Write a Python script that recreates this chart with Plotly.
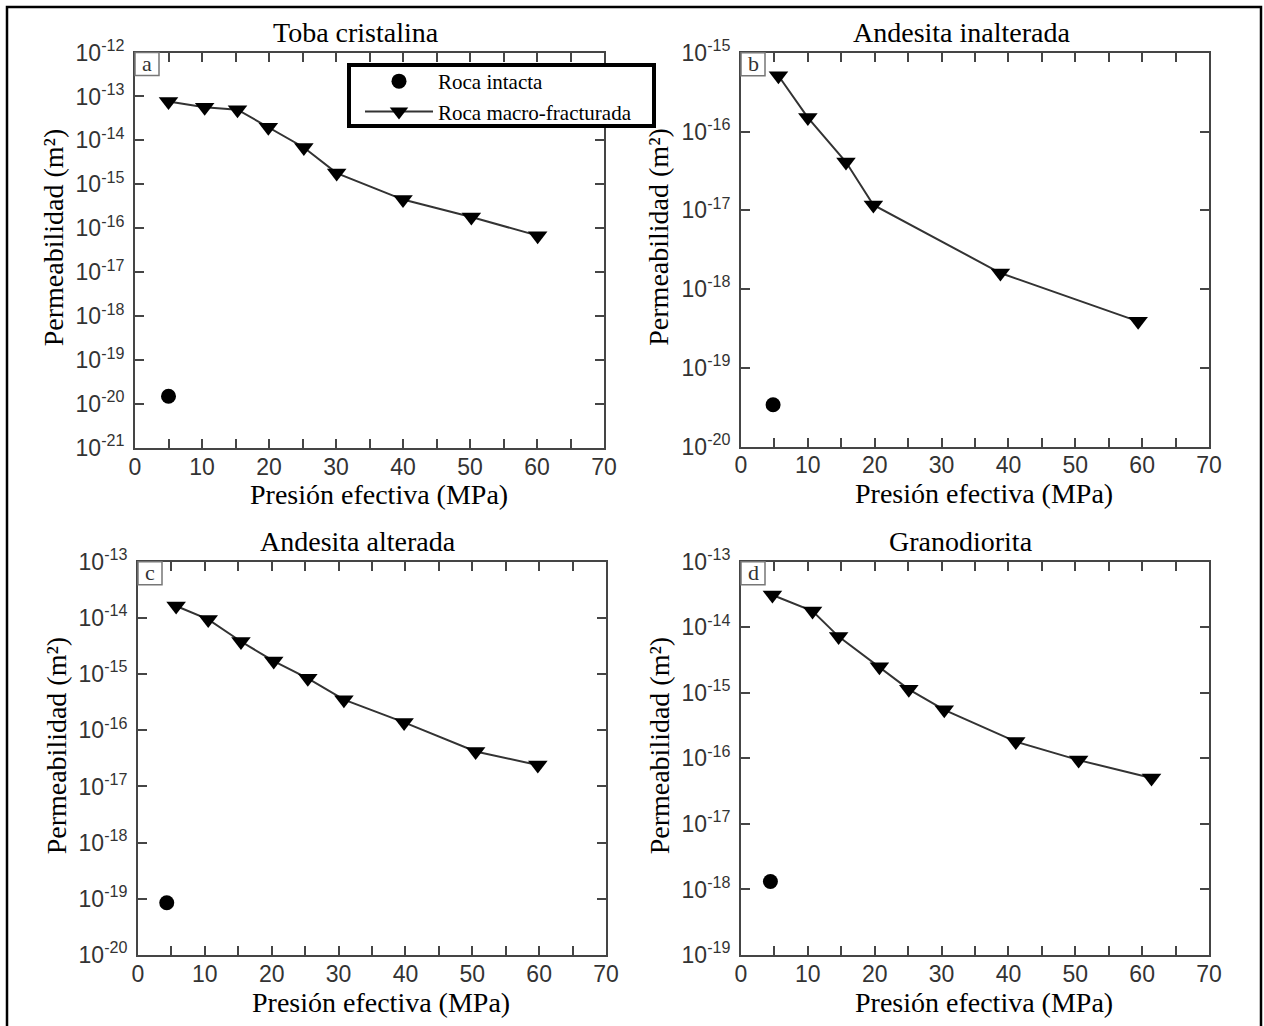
import plotly.graph_objects as go

# Effective pressure (MPa) and permeability (m^2) for each rock type
pressure_toba = [5.0, 10.4, 15.3, 19.9, 25.2, 30.1, 40.0, 50.2, 60.1]
perm_toba = [7.7e-14, 5.7e-14, 5.0e-14, 2.0e-14, 6.9e-15, 1.8e-15, 4.5e-16, 1.8e-16, 6.8e-17]
intact_p_toba = [5.0]
intact_k_toba = [1.5e-20]

pressure_andesita_inalt = [5.6, 10.0, 15.7, 19.8, 38.8, 59.4]
perm_andesita_inalt = [5.1e-16, 1.5e-16, 4.1e-17, 1.17e-17, 1.6e-18, 3.9e-19]
intact_p_andesita_inalt = [4.8]
intact_k_andesita_inalt = [3.4e-20]

pressure_andesita_alt = [5.7, 10.5, 15.4, 20.3, 25.4, 30.8, 39.8, 50.5, 59.8]
perm_andesita_alt = [1.63e-14, 9.4e-15, 3.8e-15, 1.7e-15, 8.4e-16, 3.5e-16, 1.38e-16, 4.2e-17, 2.4e-17]
intact_p_andesita_alt = [4.3]
intact_k_andesita_alt = [8.5e-20]

pressure_grano = [4.7, 10.7, 14.6, 20.7, 25.1, 30.4, 41.1, 50.5, 61.4]
perm_grano = [3.1e-14, 1.77e-14, 7.2e-15, 2.5e-15, 1.13e-15, 5.5e-16, 1.8e-16, 9.4e-17, 5.0e-17]
intact_p_grano = [4.4]
intact_k_grano = [1.32e-18]

titles = ["Toba cristalina", "Andesita inalterada", "Andesita alterada", "Granodiorita"]
panel_letters = ["a", "b", "c", "d"]
y_decades = [(-21, -12), (-20, -15), (-20, -13), (-19, -13)]

W, H = 1264, 1026

def px(x):
    return x / W

def py(y):
    return 1 - y / H

# plot boxes in pixels: left, right, top, bottom
boxes = [
    (135, 604, 52.5, 448),
    (741, 1209, 52.7, 446.7),
    (138, 606, 561.7, 955),
    (741, 1209, 561.7, 955),
]

series = [
    (pressure_toba, perm_toba, intact_p_toba, intact_k_toba),
    (pressure_andesita_inalt, perm_andesita_inalt, intact_p_andesita_inalt, intact_k_andesita_inalt),
    (pressure_andesita_alt, perm_andesita_alt, intact_p_andesita_alt, intact_k_andesita_alt),
    (pressure_grano, perm_grano, intact_p_grano, intact_k_grano),
]

SERIF = "Liberation Serif, Times New Roman, serif"
TICKFONT = dict(family="Liberation Sans, Arial, sans-serif", size=23, color="#333333")
AXCOL = "#454545"

fig = go.Figure()
layout = {}
annotations = []
shapes = []

for i, (box, data, title, letter, (ylo, yhi)) in enumerate(
        zip(boxes, series, titles, panel_letters, y_decades)):
    L, R, T, B = box
    n = "" if i == 0 else str(i + 1)
    xa, ya = "x" + n, "y" + n
    p, k, ip, ik = data

    fig.add_trace(go.Scatter(
        x=ip, y=ik, xaxis=xa, yaxis=ya, mode="markers", name="Roca intacta",
        marker=dict(symbol="circle", size=15, color="black"),
        showlegend=(i == 0), legendrank=1))
    fig.add_trace(go.Scatter(
        x=p, y=k, xaxis=xa, yaxis=ya, mode="lines+markers", name="Roca macro-fracturada",
        line=dict(color="#333333", width=2),
        marker=dict(symbol="triangle-down", size=17, color="black"),
        showlegend=(i == 0), legendrank=2))

    yvals = [10.0 ** e for e in range(ylo, yhi + 1)]
    ytext = ["10<sup>%d</sup>" % e for e in range(ylo, yhi + 1)]

    common = dict(showline=True, linecolor=AXCOL, linewidth=2, mirror="ticks",
                  ticks="inside", ticklen=9, tickwidth=2, tickcolor=AXCOL,
                  showgrid=False, zeroline=False, tickfont=TICKFONT, automargin=False)
    layout["xaxis" + n] = dict(domain=[px(L), px(R)], anchor=ya, range=[0, 70],
                               tickmode="linear", tick0=0, dtick=10,
                               minor=dict(dtick=5, ticks="inside", ticklen=9, tickwidth=2,
                                          tickcolor=AXCOL, showgrid=False),
                               ticklabelstandoff=-3, **common)
    layout["yaxis" + n] = dict(domain=[py(B), py(T)], anchor=xa, type="log",
                               range=[ylo, yhi], tickmode="array", tickvals=yvals,
                               ticktext=ytext, ticklabelstandoff=4, **common)

    cx = (L + R) / 2
    # panel title
    annotations.append(dict(text=title, x=px(cx - 14), y=py(T - 20), xref="paper", yref="paper",
                            showarrow=False, font=dict(family=SERIF, size=28, color="black"),
                            xanchor="center", yanchor="middle"))
    # x-axis title
    annotations.append(dict(text="Presión efectiva (MPa)", x=px(cx + 9), y=py(B + 47),
                            xref="paper", yref="paper", showarrow=False,
                            font=dict(family=SERIF, size=28, color="black"),
                            xanchor="center", yanchor="middle"))
    # y-axis title
    annotations.append(dict(text="Permeabilidad (m²)", x=px(L - 82), y=py((T + B) / 2 - 13),
                            xref="paper", yref="paper", showarrow=False, textangle=-90,
                            font=dict(family=SERIF, size=28, color="black"),
                            xanchor="center", yanchor="middle"))
    # panel letter in a small box
    shapes.append(dict(type="rect", xref="paper", yref="paper",
                       x0=px(L), x1=px(L + 24), y0=py(T), y1=py(T + 23),
                       line=dict(color="#777777", width=1.5), fillcolor="white", layer="above"))
    annotations.append(dict(text=letter, x=px(L + 12), y=py(T + 11), xref="paper", yref="paper",
                            showarrow=False, font=dict(family=SERIF, size=22, color="#333333"),
                            xanchor="center", yanchor="middle"))

# legend frame (white box with heavy black border)
shapes.append(dict(type="rect", xref="paper", yref="paper",
                   x0=px(349), x1=px(654), y0=py(126), y1=py(65),
                   line=dict(color="black", width=4), fillcolor="white", layer="above"))

# outer frame
shapes.append(dict(type="rect", xref="paper", yref="paper",
                   x0=px(7), x1=px(1261), y0=py(1040), y1=py(7),
                   line=dict(color="black", width=2.5), layer="above"))

fig.update_layout(
    width=W, height=H, margin=dict(l=0, r=0, t=0, b=0, autoexpand=False),
    paper_bgcolor="white", plot_bgcolor="white",
    annotations=annotations, shapes=shapes,
    legend=dict(x=px(360), y=py(61), xanchor="left", yanchor="top",
                bgcolor="rgba(0,0,0,0)", borderwidth=0,
                font=dict(family=SERIF, size=21, color="black"),
                itemwidth=68, tracegroupgap=0),
    **layout,
)

fig.write_html("out.html")
